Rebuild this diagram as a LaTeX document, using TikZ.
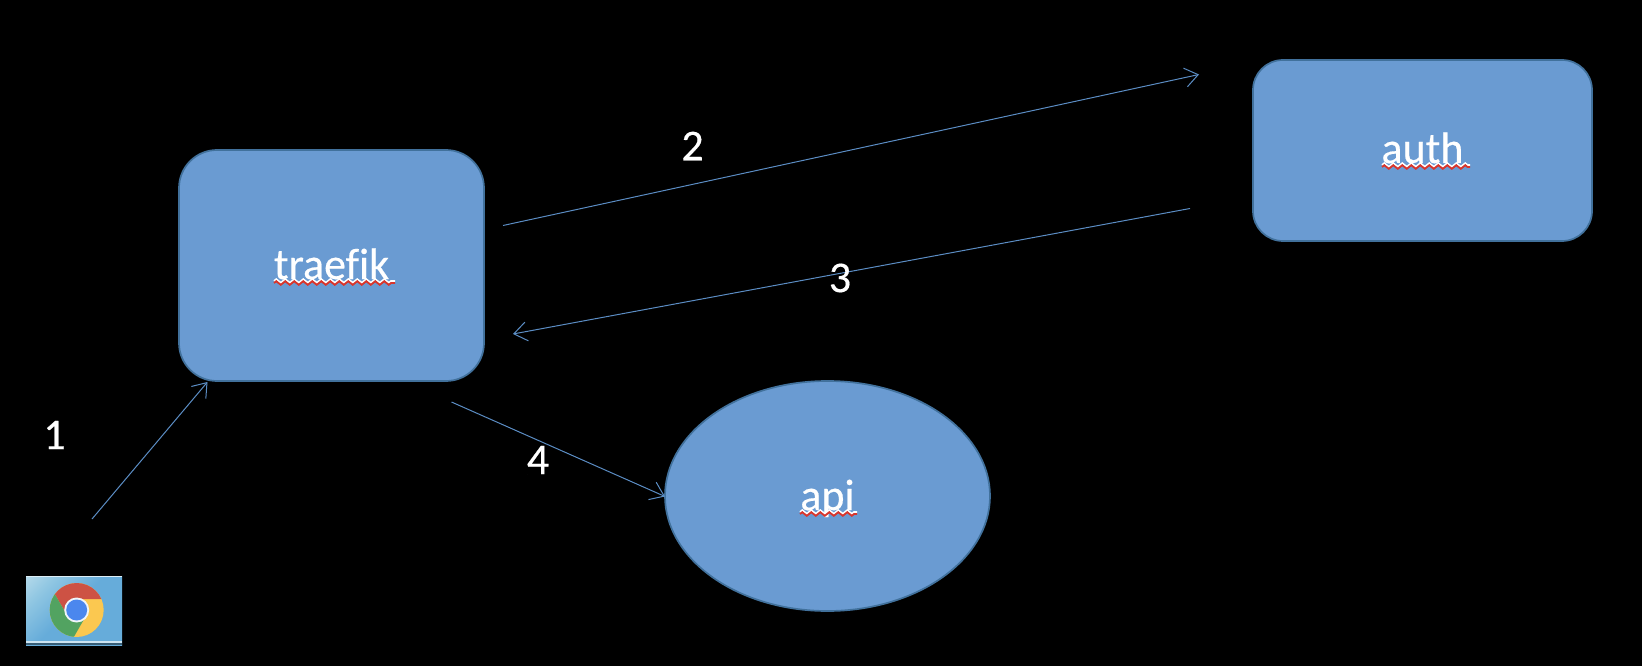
\documentclass[tikz,border=0pt]{standalone}
\usepackage{fontspec}
\setmainfont{Carlito}
\newfontfamily\labelfont{Carlito}[FakeBold=0.35,RawFeature={-liga}]
\usetikzlibrary{arrows.meta,shapes.geometric,decorations.pathmorphing,calc}
\definecolor{boxfill}{HTML}{6A9BD2}
\definecolor{boxline}{HTML}{41719C}
\definecolor{arrowblue}{HTML}{5B8DC4}
\definecolor{squig}{HTML}{D9352C}
\definecolor{chromeY}{RGB}{251,200,80}
\definecolor{chromeR}{RGB}{205,82,68}
\definecolor{chromeG}{RGB}{82,163,97}
\definecolor{chromeB}{RGB}{75,135,238}
\definecolor{iconMid}{HTML}{8FC6E2}
\definecolor{iconBot}{HTML}{66ACDA}
\definecolor{iconGlow}{HTML}{DCEEF3}
\pgfdeclareverticalshading{iconshade}{100bp}{color(0bp)=(iconBot);color(52bp)=(iconBot);color(72bp)=(iconMid);color(100bp)=(iconGlow)}
\tikzset{
  x=1pt,y=-1pt,
  shapebox/.style={draw=boxline,line width=1.7pt,fill=boxfill,text=white,font=\labelfont\fontsize{44}{50}\selectfont,inner sep=0pt,text depth=0pt},
  roundbox/.style={shapebox,rectangle},
  numlabel/.style={text=white,font=\labelfont\fontsize{44}{50}\selectfont,inner sep=0pt},
  flow/.style={draw=arrowblue,line width=1pt,-{Straight Barb[length=13pt,width=19pt,line width=1pt]}},
  squiggle/.style={draw=squig,line width=1.8pt,decorate,decoration={zigzag,amplitude=1.8pt,segment length=9pt}},
  squigglehalo/.style={squiggle,draw=white}
}
\begin{document}
\begin{tikzpicture}
\useasboundingbox (0,0) rectangle (1642,666);
\fill[black] (0,0) rectangle (1642,666);
% boxes
\node[roundbox,rounded corners=38pt,minimum width=305pt,minimum height=231pt,text height=27pt] (traefik) at (331.5,265.5) {traefik};
\node[roundbox,rounded corners=30pt,minimum width=339pt,minimum height=181pt,text height=25pt] (auth) at (1422.5,150.5) {auth};
\node[shapebox,ellipse,minimum width=325pt,minimum height=230pt,text height=28pt] (api) at (827.5,496) {api};
% squiggles
\draw[squigglehalo] ([xshift=-57.5pt,yshift=-15.5pt]traefik.center) -- ([xshift=63.5pt,yshift=-15.5pt]traefik.center);
\draw[squiggle] ([xshift=-57.5pt,yshift=-17.5pt]traefik.center) -- ([xshift=63.5pt,yshift=-17.5pt]traefik.center);
\draw[squigglehalo] ([xshift=-40.5pt,yshift=-14.5pt]auth.center) -- ([xshift=47.5pt,yshift=-14.5pt]auth.center);
\draw[squiggle] ([xshift=-40.5pt,yshift=-16.5pt]auth.center) -- ([xshift=47.5pt,yshift=-16.5pt]auth.center);
\draw[squigglehalo] ([xshift=-27.5pt,yshift=-16pt]api.center) -- ([xshift=29.5pt,yshift=-16pt]api.center);
\draw[squiggle] ([xshift=-27.5pt,yshift=-18pt]api.center) -- ([xshift=29.5pt,yshift=-18pt]api.center);
% icon
\node[inner sep=0pt,outer sep=0pt,minimum width=96pt,minimum height=69pt,
      shading=iconshade,shading angle=45] (browser) at (74,610.5) {};
\draw[white!70!iconMid,line width=1.4pt] ([yshift=-0.7pt]browser.north west) -- ([yshift=-0.7pt]browser.north east);
\draw[white!55!iconMid,line width=2pt] ([yshift=3.5pt]browser.south west) -- ([yshift=3.5pt]browser.south east);
\draw[black!45!iconBot,line width=1.6pt] ([yshift=1pt]browser.south west) -- ([yshift=1pt]browser.south east);
\begin{scope}[shift={(76.7,610)},y=1pt]
  \begin{scope}
    \clip (0,0) circle (27);
    \fill[chromeY] (-40,-40) rectangle (40,40);
    \fill[chromeR] (90:11) -- ++(0:60) -- ++(90:60) -- ++(180:120) -- ($(210:11)+(120:60)$) -- (210:11) -- (0,0) -- cycle;
    \fill[chromeG] (210:11) -- ($(210:11)+(120:60)$) -- (-60,-60) -- ($(330:11)+(240:60)$) -- (330:11) -- (0,0) -- cycle;
  \end{scope}
  \fill[white!90!boxfill] (0,0) circle (12.5);
  \fill[chromeB] (0,0) circle (10.5);
\end{scope}
% free ends
\coordinate (start1) at (92,519);
\coordinate (end1) at (207.5,382);
\coordinate (start2) at (503,225.5);
\coordinate (end2) at (1199,74.5);
\coordinate (start3) at (1190,208.5);
\coordinate (end3) at (513,334);
\coordinate (start4) at (451.5,402);
\coordinate (end4) at (665,496.5);
\draw[flow] (start1) -- (end1);
\draw[flow] (start2) -- (end2);
\draw[flow] (start3) -- (end3);
\draw[flow] (start4) -- (end4);
% labels
\node[numlabel] (n1) at (54.5,435) {1};
\node[numlabel] (n2) at (692.5,146) {2};
\node[numlabel] (n3) at (840,278) {3};
\node[numlabel] (n4) at (538,460) {4};
\end{tikzpicture}
\end{document}
